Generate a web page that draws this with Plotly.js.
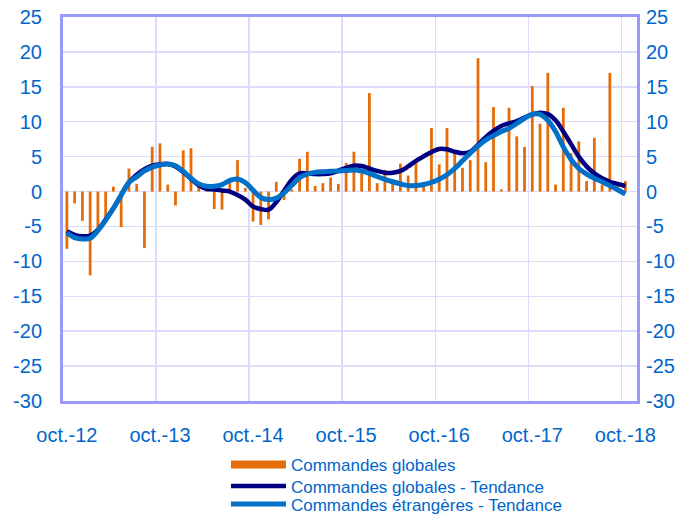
<!DOCTYPE html>
<html>
<head>
<meta charset="utf-8">
<script src="https://cdn.plot.ly/plotly-3.0.1.min.js"></script>
<style>html,body{margin:0;padding:0;background:#fff;}#chart{width:686px;height:515px;}</style>
</head>
<body>
<div id="chart"></div>
<script>
// Months oct-12 .. oct-18 (73 monthly observations)
var monthNames = ['janv','févr','mars','avr','mai','juin','juil','août','sept','oct','nov','déc'];
var categories = [];
for (var k = 0; k < 73; k++) {
  var m = (9 + k) % 12, yr = 12 + Math.floor((9 + k) / 12);
  categories.push(monthNames[m] + '.-' + yr);
}

var commandesGlobales = [
  -8.2, -1.7, -4.2, -12.0, -5.2, -4.0, 0.7, -5.1, 3.3, 1.1, -8.1, 6.4,
  6.9, 1.0, -2.0, 5.9, 6.2, 0.7, 0.3, -2.5, -2.6, 1.9, 4.5, 0.5,
  -4.3, -4.8, -4.0, 1.4, -1.2, 0.3, 4.7, 5.7, 0.8, 1.2, 2.0, 1.1,
  4.1, 5.7, 2.6, 14.1, 1.2, 3.1, 1.8, 4.0, 2.3, 4.6, 1.3, 9.1,
  3.9, 9.1, 5.5, 3.4, 4.5, 19.1, 4.2, 12.1, 0.3, 12.0, 7.9, 6.4,
  15.1, 9.7, 17.0, 1.0, 12.0, 5.5, 7.2, 1.5, 7.7, 1.0, 17.0, 0.8,
  1.5
];

var globalesTendance = [
  -5.7, -6.2, -6.4, -6.3, -5.5, -4.0, -2.4, -0.5, 1.3, 2.4, 3.2, 3.7,
  3.9, 3.95, 3.6, 2.8, 1.8, 0.9, 0.4, 0.3, 0.15, 0.0, -0.5, -1.15,
  -2.15, -2.5, -2.6, -1.5, 0.1, 1.7, 2.6, 2.6, 2.5, 2.5, 2.6, 3.0,
  3.4, 3.7, 3.65, 3.3, 2.95, 2.7, 2.7, 2.95, 3.6, 4.4, 5.05, 5.65,
  6.1, 6.05, 5.7, 5.5, 5.7, 6.7, 7.8, 8.7, 9.4, 9.75, 10.1, 10.6,
  11.05, 11.3, 11.1, 10.2, 8.6, 6.8, 5.0, 3.6, 2.6, 1.9, 1.4, 1.1,
  0.8
];

var etrangeresTendance = [
  -5.9, -6.6, -6.8, -6.7, -5.6, -4.1, -2.4, -0.5, 1.3, 2.1, 2.95, 3.5,
  3.8, 3.95, 3.7, 2.9, 1.9, 1.1, 0.75, 0.75, 1.0, 1.6, 1.8, 1.3,
  0.2, -0.85, -1.15, -0.95, -0.2, 0.9, 2.0, 2.5, 2.75, 2.85, 2.9, 2.95,
  3.0, 3.1, 2.95, 2.6, 2.15, 1.75, 1.4, 1.1, 0.85, 0.85, 1.0, 1.3,
  1.75, 2.4, 3.3, 4.4, 5.5, 6.5, 7.4, 8.0, 8.6, 9.05, 9.75, 10.5,
  11.05, 11.05, 10.2, 8.6, 6.4, 4.6, 3.3, 2.5, 1.9, 1.4, 0.85, 0.25,
  -0.35
];

var tickLabels = ['oct.-12','oct.-13','oct.-14','oct.-15','oct.-16','oct.-17','oct.-18'];
var yTickVals = [-30, -25, -20, -15, -10, -5, 0, 5, 10, 15, 20, 25];
var yTickText = ['-30','-25','-20','-15','-10','-5','0','5','10','15','20','25'];
var seriesNames = ['Commandes globales','Commandes globales - Tendance','Commandes étrangères - Tendance'];

var xIdx = categories.map(function(_, i){ return i; });
var tickIdx = tickLabels.map(function(lbl){ return categories.indexOf(lbl); });

var ORANGE = '#E46C0A', NAVY = '#000080', LIGHT = '#0070C8';
var TXT = '#0066CC', FRAME = '#9999FF', GRID = '#DCDCFA';
var FONT = 'Liberation Sans, Arial, sans-serif';

var traces = [
  {type:'bar', x:xIdx, y:commandesGlobales, name:seriesNames[0], showlegend:false,
   marker:{color:ORANGE, line:{width:0}}, hoverinfo:'y'},
  {type:'scatter', mode:'lines', x:[null], y:[null], yaxis:'y2', name:seriesNames[0],
   legend:'legend', line:{color:ORANGE, width:8}},
  {type:'scatter', mode:'lines', x:xIdx, y:globalesTendance, name:seriesNames[1],
   legend:'legend2', line:{color:NAVY, width:4.5, shape:'spline', smoothing:1}},
  {type:'scatter', mode:'lines', x:xIdx, y:etrangeresTendance, name:seriesNames[2],
   legend:'legend3', line:{color:LIGHT, width:5, shape:'spline', smoothing:1}}
];

var yTicks = {tickmode:'array', tickvals:yTickVals, ticktext:yTickText, range:[-30,25], fixedrange:true};

function legendAt(yc) {
  return {orientation:'v', xref:'container', x:0.3294, xanchor:'left',
          yref:'container', y:yc, yanchor:'top',
          font:{family:FONT, size:17, color:TXT}, itemwidth:55,
          bgcolor:'rgba(0,0,0,0)'};
}

var layout = {
  width:686, height:515,
  margin:{l:63, r:49, t:17, b:114, pad:0, autoexpand:false},
  paper_bgcolor:'#fff', plot_bgcolor:'#fff',
  font:{family:FONT, color:TXT, size:20},
  bargap:0.64,
  showlegend:true,
  legend:legendAt(0.132),
  legend2:legendAt(0.0903),
  legend3:legendAt(0.0553),
  xaxis:{range:[-0.5,73.5], tickmode:'array', tickvals:tickIdx, ticktext:tickLabels,
         showgrid:false, zeroline:false, ticks:'', ticklabelstandoff:14,
         showline:true, mirror:true, linecolor:FRAME, linewidth:3,
         tickfont:{family:FONT, size:20, color:TXT},
         minor:{tickmode:'linear', tick0:-0.5, dtick:12, showgrid:true, gridcolor:GRID, gridwidth:1.5, ticks:''}},
  yaxis:Object.assign({}, yTicks, {showgrid:true, gridcolor:GRID, gridwidth:1.5,
         zeroline:true, zerolinecolor:GRID, zerolinewidth:1.5,
         showline:true, mirror:true, linecolor:FRAME, linewidth:3, ticks:'',
         ticklabelstandoff:14, tickfont:{family:FONT, size:20, color:TXT}}),
  yaxis2:Object.assign({}, yTicks, {overlaying:'y', side:'right', showgrid:false, zeroline:false,
         showline:false, ticks:'', ticklabelstandoff:8, tickfont:{family:FONT, size:20, color:TXT}})
};

Plotly.newPlot('chart', traces, layout, {displayModeBar:false, staticPlot:true});
</script>
</body>
</html>
